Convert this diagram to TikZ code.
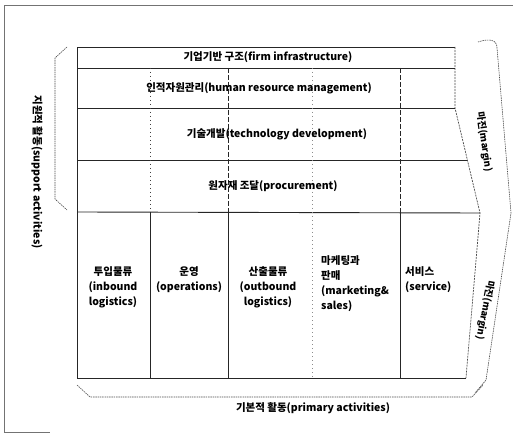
\documentclass[tikz,border=0pt]{standalone}
\usepackage{fontspec}
\setmainfont{Noto Sans CJK KR}
\begin{document}
\begin{tikzpicture}[x=1pt,y=-1pt,
  lbl/.style={font=\fontsize{10.5}{15}\selectfont\bfseries, inner sep=0pt, text=black},
  small/.style={font=\fontsize{9.5}{13}\selectfont\bfseries, inner sep=0pt, text=black},
  solidline/.style={draw=black!85, line width=0.9pt},
  edgeline/.style={draw=black!70, line width=0.7pt, dash pattern=on 2pt off 1pt},
  dotline/.style={draw=black!75, line width=1pt, dash pattern=on 1.5pt off 2.5pt},
  dashline/.style={draw=black!85, line width=1pt, dash pattern=on 5pt off 2pt},
  faintline/.style={draw=black!45, line width=0.5pt, dash pattern=on 1pt off 3pt},
  bracel/.style={draw=black!70, line width=0.6pt, dash pattern=on 1.5pt off 0.8pt},
  framel/.style={draw=black!55, line width=0.6pt}]
\useasboundingbox (0,0) rectangle (513,435);

% outer frame
\draw[framel] (513,5) -- (4,5) -- (4,432) -- (50,432);

% corner coordinates of the chevron
\coordinate (tl) at (77,47);
\coordinate (tr) at (455,47);
\coordinate (rs) at (455,108);
\coordinate (tip) at (480,213);
\coordinate (br) at (466,378);
\coordinate (bl) at (77,378);

% main outline
\draw[solidline] (tr) -- (tl) -- (bl) -- (br);
\draw[edgeline] (tr) -- (rs) -- (tip) -- (br);

% rows
\draw[solidline] (77,68) -- (455,68);
\draw[solidline] (77,108) -- (rs);
\draw[solidline] (77,160) -- (467,160);
\draw[solidline] (77,212) -- (tip);

% support dividers
\draw[dotline] (150,68) -- (150,212);
\draw[dashline] (228,68) -- (228,212);
\draw[faintline] (312,68) -- (312,212);
\draw[dashline] (400,68) -- (400,212);

% primary dividers
\draw[solidline, line width=0.7pt] (150,212) -- (150,378);
\draw[solidline, line width=0.7pt] (228,212) -- (228,378);
\draw[faintline] (312,212) -- (312,378);
\draw[solidline, line width=0.7pt] (400,212) -- (400,378);

% support texts
\node[lbl] (infra) at (268,57) {기업기반 구조(firm infrastructure)};
\node[lbl] (hrm) at (259,88) {인적자원관리(human resource management)};
\node[lbl] (tech) at (277,134) {기술개발(technology development)};
\node[lbl] (proc) at (273,186) {원자재 조달(procurement)};

% primary texts
\node[lbl, align=center] (inb) at (113,287) {투입물류\\(inbound\\logistics)};
\node[lbl, align=center] (ops) at (189,280) {운영\\(operations)};
\node[lbl, align=center] (outb) at (268,287) {산출물류\\(outbound\\logistics)};
\node[lbl, align=left, anchor=west] (mkt) at (321,284) {마케팅과\\판매\\(marketing\&\\sales)};
\node[lbl, align=left, anchor=west] (svc) at (405,280) {서비스\\(service)};

% left brace and label
\draw[bracel] (67,47) -- (55,58) -- (55,199) -- (67,210);
\node[lbl, rotate=-90] (support) at (37,172) {지원적 활동(support activities)};

% bottom brace and label
\draw[bracel] (77,385) -- (90,397) -- (472,397) -- (483,385);
\node[lbl] (primary) at (313,408) {기본적 활동(primary activities)};

% margin brace and labels
\draw[bracel] (478,42) .. controls (490,38) and (497,40) .. (497,48) -- (511,213) -- (486,380) -- (475,393);
\node[small, rotate=-82] (margin1) at (484,142) {마진(margin)};
\node[small, rotate=-101] (margin2) at (485,310) {마진(margin)};
\end{tikzpicture}
\end{document}
